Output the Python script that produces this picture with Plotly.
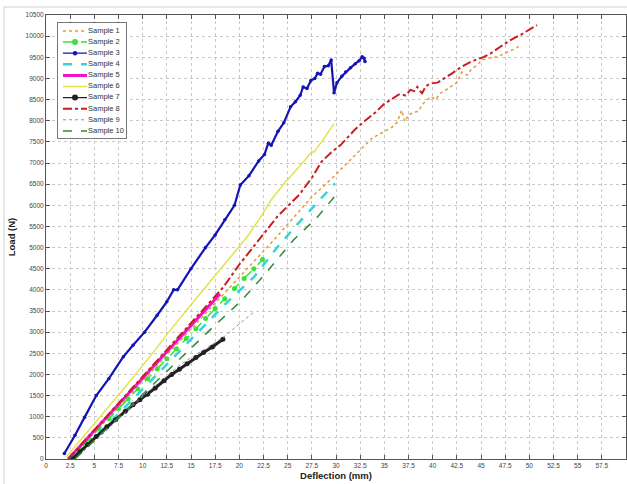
import plotly.graph_objects as go

# ---------------- data ----------------
names = ["Sample 1", "Sample 2", "Sample 3", "Sample 4", "Sample 5",
         "Sample 6", "Sample 7", "Sample 8", "Sample 9", "Sample 10"]

x1 = [2.5, 6, 10, 14, 18, 21, 23.9, 25.5, 27.5, 29.5, 31.2, 32.5, 33.7, 34.8, 35.8, 36.3,
      36.8, 37.1, 37.5, 38.0, 38.5, 39.0, 39.8, 40.3, 40.8, 41.5, 42.5, 43.0, 43.6, 44.0,
      44.5, 45.2, 46.0, 46.8, 47.5, 48.3, 49.1]
y1 = [0, 860, 1840, 2830, 3810, 4550, 5260, 5680, 6200, 6620, 7000, 7300, 7580, 7720, 7850, 7950,
      8250, 7980, 8130, 8200, 8220, 8400, 8570, 8500, 8650, 8750, 8900, 9150, 9080, 9220,
      9300, 9450, 9480, 9520, 9600, 9680, 9780]

x2 = [2.5, 3.5, 4.5, 5.5, 6.5, 7.5, 8.5, 9.5, 10.5, 11.5, 12.5, 13.5, 14.5, 15.5, 16.5,
      17.5, 18.5, 19.5, 20.5, 21.5, 22.4]
y2 = [0, 240, 470, 710, 950, 1190, 1420, 1660, 1900, 2130, 2370, 2610, 2850, 3080, 3320,
      3560, 3790, 4030, 4270, 4500, 4720]

x3 = [1.9, 3.0, 4.0, 5.2, 6.5, 8.0, 9.0, 10.2, 11.5, 12.5, 13.2, 13.6, 15.0, 16.5, 17.5,
      18.5, 19.5, 20.1, 21.0, 22.0, 22.6, 23.0, 23.3, 24.0, 24.6, 25.3, 25.8, 26.3, 26.6,
      27.0, 27.4, 27.8, 28.1, 28.4, 28.8, 29.2, 29.5, 29.8, 30.1, 30.6, 31.0, 31.5, 32.0,
      32.4, 32.7, 32.9, 33.0]
y3 = [130, 560, 990, 1500, 1900, 2420, 2690, 3000, 3400, 3720, 4000, 4000, 4500, 5000, 5300,
      5660, 6000, 6480, 6700, 7050, 7200, 7470, 7420, 7750, 7950, 8330, 8450, 8600, 8800,
      8760, 8950, 9000, 9120, 9100, 9280, 9300, 9435, 8660, 8900, 9050, 9150, 9250, 9350,
      9420, 9510, 9480, 9400]

x4 = [2.8, 6, 10, 14, 18.7, 21.5, 23.9, 26, 28, 29.9]
y4 = [0, 720, 1650, 2600, 3700, 4300, 5000, 5550, 6050, 6520]

x5 = [2.3, 4, 6, 8, 10, 12, 14, 16, 18.0]
y5 = [0, 420, 920, 1410, 1910, 2400, 2900, 3400, 3900]

x6 = [2.1, 5, 8, 10.5, 12.8, 15, 17, 19, 20.8, 22, 23.2, 24.5, 25.8, 26.8, 27.5, 27.7, 28.5, 29.8]
y6 = [50, 830, 1650, 2350, 3030, 3650, 4200, 4740, 5250, 5650, 6100, 6480, 6800, 7070, 7270,
      7250, 7500, 7930]

x7 = [2.7, 3.5, 4.3, 5.2, 6.3, 7.2, 8.2, 9.0, 9.7, 10.5, 11.3, 12.2, 13.0, 13.8, 14.6,
      15.5, 16.3, 17.2, 18.3]
y7 = [0, 170, 340, 530, 760, 930, 1130, 1280, 1400, 1530, 1680, 1850, 2000, 2120, 2250,
      2400, 2520, 2650, 2830]

x8 = [2.3, 6, 10, 14, 18.3, 20, 22.2, 24, 26.2, 27.5, 28.5, 29.5, 30.5, 32, 33, 34, 35, 36,
      36.5, 37.2, 37.7, 38.1, 38.4, 38.7, 38.9, 39.3, 39.8, 40.5, 41.2, 42, 43, 44, 45.3,
      46, 47, 48, 49, 50, 50.8]
y8 = [0, 940, 1950, 2960, 4050, 4600, 5220, 5750, 6250, 6650, 7030, 7250, 7430, 7800, 8000,
      8180, 8400, 8550, 8620, 8600, 8730, 8700, 8800, 8700, 8650, 8820, 8880, 8900, 9000,
      9120, 9280, 9400, 9510, 9590, 9750, 9900, 10020, 10150, 10260]

x9 = [3.0, 6, 9.7, 14, 18.3, 20, 21.4]
y9 = [0, 620, 1420, 2250, 2870, 3200, 3460]

x10 = [3.0, 6, 10, 14, 17, 20.1, 22.5, 25.6, 28, 29.9]
y10 = [0, 650, 1520, 2400, 3060, 3720, 4330, 5180, 5700, 6220]

xs = [x1, x2, x3, x4, x5, x6, x7, x8, x9, x10]
ys = [y1, y2, y3, y4, y5, y6, y7, y8, y9, y10]

x_ticks = [i * 2.5 for i in range(25)]
y_ticks = [i * 500 for i in range(22)]

# ---------------- styles ----------------
colors = ["#E39A3C", "#3BE03B", "#1414B4", "#33D6D6", "#F014C8",
          "#E2E24A", "#222222", "#C81E1E", "#8E8EAE", "#2E8A3A"]
dashes = ["dot", "dash", "solid", "dash", "solid", "solid", "solid", "dashdot", "dot", "dash"]
widths = [1.5, 1.5, 2.2, 2.5, 3, 1.5, 3, 2, 1, 1.5]
msyms = [None, "circle", "circle", None, None, None, "circle", None, None, None]
msizes = [0, 5, 3.5, 0, 0, 0, 5, 0, 0, 0]
leg_widths = [1.5, 1.5, 1.2, 2.5, 3, 1.5, 1.2, 2, 1, 1.5]

FONT = "Liberation Sans"

fig = go.Figure()
for i in range(10):
    mode = "lines+markers" if msyms[i] else "lines"
    kw = {}
    if msyms[i]:
        kw["marker"] = dict(symbol=msyms[i], size=msizes[i], color=colors[i])
    fig.add_trace(go.Scatter(x=xs[i], y=ys[i], mode=mode, name=names[i],
                             line=dict(color=colors[i], dash=dashes[i], width=widths[i]),
                             showlegend=False, **kw))

# ---------------- MATLAB-style legend drawn on its own small axes ----------------
row_h = 11.1
row0 = 7.7
for i in range(10):
    ry = row0 + row_h * i
    fig.add_trace(go.Scatter(x=[5, 29], y=[ry, ry], mode="lines", xaxis="x2", yaxis="y2",
                             line=dict(color=colors[i], dash=dashes[i], width=leg_widths[i]),
                             showlegend=False, hoverinfo="skip"))
    if msyms[i]:
        fig.add_trace(go.Scatter(x=[17], y=[ry], mode="markers", xaxis="x2", yaxis="y2",
                                 marker=dict(symbol=msyms[i], size=msizes[i] + 1, color=colors[i]),
                                 showlegend=False, hoverinfo="skip"))
fig.add_trace(go.Scatter(x=[30] * 10, y=[row0 + row_h * i for i in range(10)], text=names,
                         mode="text", textposition="middle right", xaxis="x2", yaxis="y2",
                         textfont=dict(family=FONT, size=7.5, color="#333"),
                         showlegend=False, hoverinfo="skip"))

L, B, W, H = 46, 25, 580, 444
def px_x(p):
    return (p - L) / W
def px_y(p):
    return (484 - B - p) / H

axis_common = dict(showline=True, linecolor="#555", linewidth=1, mirror="ticks",
                   ticks="inside", ticklen=4, tickcolor="#555",
                   showgrid=True, gridcolor="#C8C8C8", griddash="dot", gridwidth=1,
                   zeroline=False, tickfont=dict(family=FONT, size=6.5, color="#444"))

fig.update_layout(
    width=627, height=484,
    margin=dict(l=L, r=627 - L - W, t=484 - B - H, b=B),
    paper_bgcolor="white", plot_bgcolor="white",
    showlegend=False,
    xaxis=dict(range=[0, 60], tickvals=x_ticks,
               ticktext=[("%g" % v) for v in x_ticks],
               title=dict(text="Deflection (mm)", standoff=4,
                          font=dict(family=FONT, size=9.5, color="#222", weight="bold")),
               **axis_common),
    yaxis=dict(range=[0, 10500], tickvals=y_ticks,
               ticktext=[str(v) for v in y_ticks],
               title=dict(text="Load (N)", standoff=8,
                          font=dict(family=FONT, size=9.5, color="#222", weight="bold")),
               **axis_common),
    xaxis2=dict(domain=[px_x(58), px_x(126)], range=[0, 68], anchor="y2",
                showgrid=False, zeroline=False, showticklabels=False, ticks="",
                showline=True, mirror=True, linecolor="#777", linewidth=1),
    yaxis2=dict(domain=[px_y(137.7), px_y(23.3)], range=[114.4, 0], anchor="x2",
                showgrid=False, zeroline=False, showticklabels=False, ticks="",
                showline=True, mirror=True, linecolor="#777", linewidth=1),
    shapes=[
        dict(type="rect", xref="paper", yref="paper", x0=px_x(58), x1=px_x(126),
             y0=px_y(137.7), y1=px_y(23.3), fillcolor="white", line=dict(width=0),
             layer="between"),
        dict(type="line", xref="paper", yref="paper", x0=px_x(4), x1=px_x(627),
             y0=px_y(7), y1=px_y(7), line=dict(color="#D0D0D0", width=1)),
        dict(type="line", xref="paper", yref="paper", x0=px_x(4), x1=px_x(4),
             y0=px_y(7), y1=px_y(484), line=dict(color="#D0D0D0", width=1)),
    ],
)

fig.write_html("out.html",
               config={"displayModeBar": False},
               post_script="document.body.style.margin='0px';"
                           "document.body.style.overflow='hidden';")
